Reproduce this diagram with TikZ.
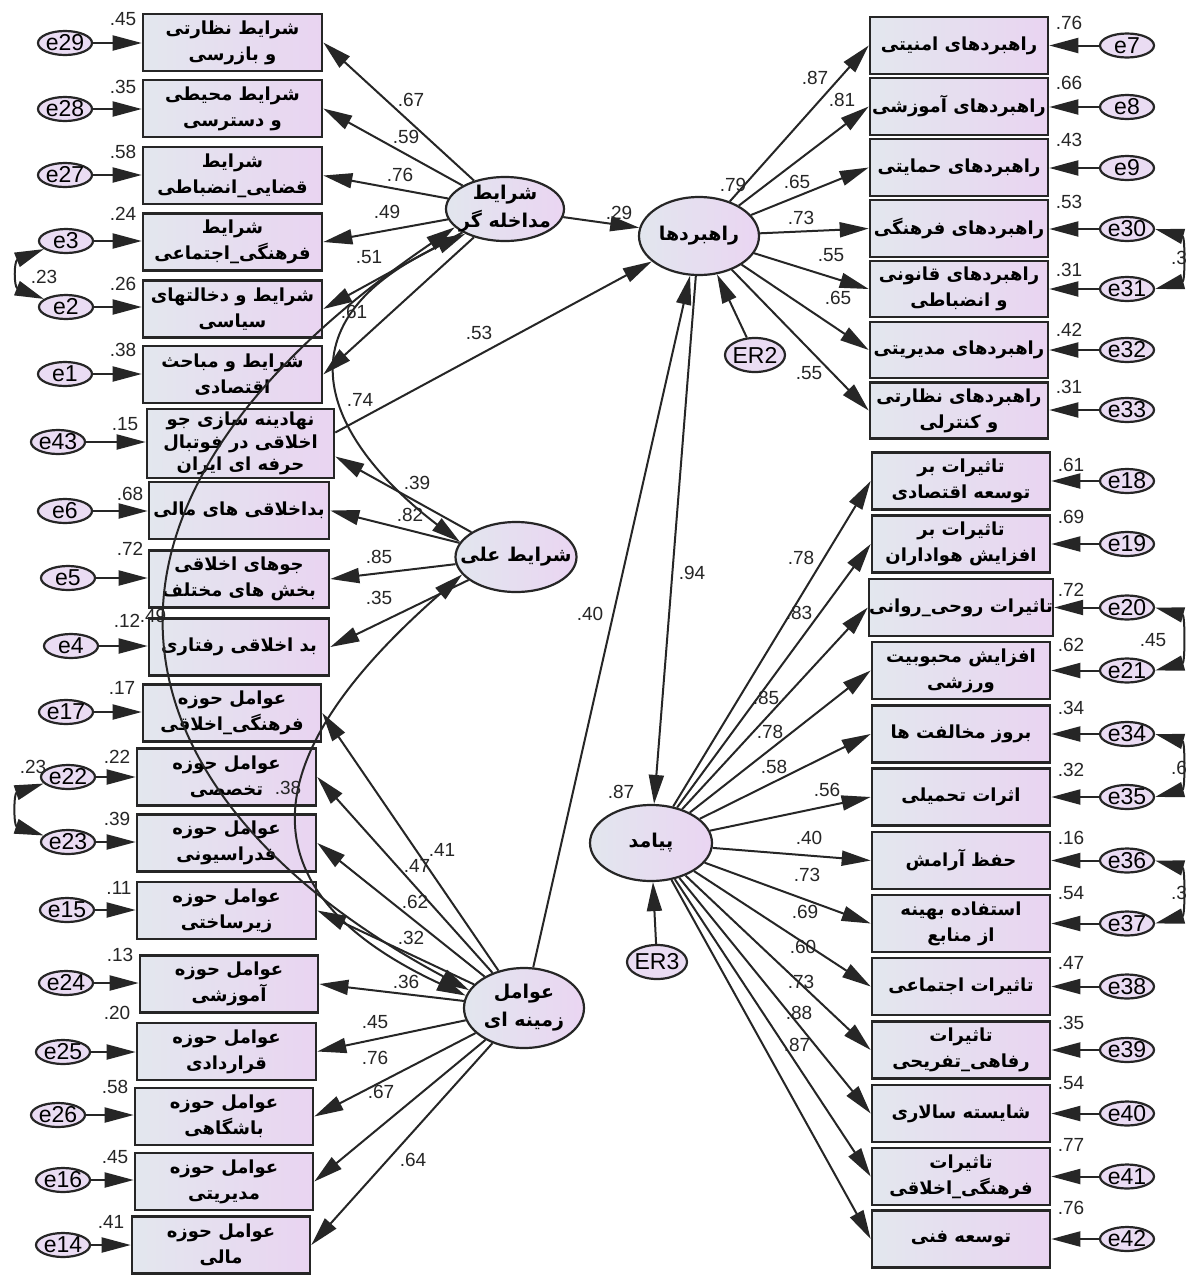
\documentclass[tikz,border=0pt]{standalone}
\usepackage{fontspec}
\setmainfont{Liberation Sans}
\newfontfamily\persianfont[Script=Arabic]{DejaVu Sans}
\TeXXeTstate=1
\usetikzlibrary{arrows.meta,shapes.geometric}
\definecolor{boxL}{HTML}{E3E7EE}
\definecolor{boxR}{HTML}{E9D4F1}
\definecolor{latL}{HTML}{E2E6EE}
\definecolor{latR}{HTML}{EAD5F2}
\definecolor{errF}{HTML}{EADCF3}
\definecolor{edgec}{HTML}{262626}
\newcommand\fa[1]{\beginR #1\endR}
\newcommand\errnode[3]{\node[err] (#1) at (#2) {}; \node[etxt] (#1t) at (#1.center) {#3};}
\newcommand\lab[3]{\node[num] (#1) at (#2) {#3};}
\begin{document}
\begin{tikzpicture}[x=1pt,y=-1pt,
  obs/.style={draw=edgec, line width=2.6pt, left color=boxL, right color=boxR,
    minimum width=178pt, minimum height=57pt, inner sep=0pt, align=center,
    font=\persianfont\bfseries\fontsize{18}{26}\selectfont},
  lat/.style={ellipse, draw=edgec, line width=2.2pt, left color=latL, right color=latR,
    inner sep=0pt, minimum width=120pt, minimum height=66pt},
  lattxt/.style={inner sep=0pt, align=center, font=\persianfont\bfseries\fontsize{19}{28}\selectfont},
  err/.style={ellipse, draw=edgec, line width=2.2pt, fill=errF, inner sep=0pt,
    minimum width=54pt, minimum height=24pt},
  etxt/.style={inner sep=0pt, font=\fontsize{23}{23}\selectfont},
  num/.style={inner sep=0pt, font=\fontsize{19}{19}\selectfont, text=black!85},
  arr/.style={line width=2pt, draw=edgec, -{Triangle[length=29pt,width=15pt]}},
  cov/.style={line width=2pt, draw=edgec, {Triangle[length=29pt,width=15pt]}-{Triangle[length=29pt,width=15pt]}},
]
\fill[white] (0,0) rectangle (1194,1275);
\useasboundingbox (0,0) rectangle (1194,1275);

% ---------- left observed variables ----------
\node[obs, minimum width=179pt] (l1) at (232.5,42.5) {\fa{شرایط نظارتی}\\\fa{و بازرسی}};
\node[obs, minimum width=179pt] (l2) at (232.5,108.5) {\fa{شرایط محیطی}\\\fa{و دسترسی}};
\node[obs, minimum width=179pt] (l3) at (232.5,175.5) {\fa{شرایط}\\\fa{قضایی\_انضباطی}};
\node[obs, minimum width=179pt] (l4) at (232.5,242) {\fa{شرایط}\\\fa{فرهنگی\_اجتماعی}};
\node[obs, minimum width=179pt] (l5) at (232.5,309) {\fa{شرایط و دخالتهای}\\\fa{سیاسی}};
\node[obs, minimum width=179pt] (l6) at (232.5,374.5) {\fa{شرایط و مباحث}\\\fa{اقتصادی}};
\node[obs, minimum width=187pt, minimum height=69pt, font=\persianfont\bfseries\fontsize{18}{22.5}\selectfont] (l7) at (240.5,443.5) {\fa{نهادینه سازی جو}\\\fa{اخلاقی در فوتبال}\\\fa{حرفه ای ایران}};
\node[obs, minimum width=180pt] (l8) at (239,510.5) {\fa{بداخلاقی های مالی}};
\node[obs, minimum width=180pt] (l9) at (239,579) {\fa{جوهای اخلاقی}\\\fa{بخش های مختلف}};
\node[obs, minimum width=180pt] (l10) at (239,647) {\fa{بد اخلاقی رفتاری}};
\node[obs] (l11) at (232,713) {\fa{عوامل حوزه}\\\fa{فرهنگی\_اخلاقی}};
\node[obs, minimum width=179pt] (l12) at (226.5,777) {\fa{عوامل حوزه}\\\fa{تخصصی}};
\node[obs, minimum width=179pt] (l13) at (226.5,843) {\fa{عوامل حوزه}\\\fa{فدراسیونی}};
\node[obs, minimum width=179pt] (l14) at (226.5,910.5) {\fa{عوامل حوزه}\\\fa{زیرساختی}};
\node[obs] (l15) at (229,984) {\fa{عوامل حوزه}\\\fa{آموزشی}};
\node[obs, minimum width=179pt] (l16) at (226.5,1051.5) {\fa{عوامل حوزه}\\\fa{قراردادی}};
\node[obs] (l17) at (224,1116.5) {\fa{عوامل حوزه}\\\fa{باشگاهی}};
\node[obs] (l18) at (224,1181.5) {\fa{عوامل حوزه}\\\fa{مدیریتی}};
\node[obs] (l19) at (221,1245) {\fa{عوامل حوزه}\\\fa{مالی}};

% ---------- right: strategies ----------
\node[obs] (r1) at (959,45.5) {\fa{راهبردهای امنیتی}};
\node[obs] (r2) at (959,106.5) {\fa{راهبردهای آموزشی}};
\node[obs] (r3) at (959,167.5) {\fa{راهبردهای حمایتی}};
\node[obs] (r4) at (959,228.5) {\fa{راهبردهای فرهنگی}};
\node[obs, minimum height=56pt] (r5) at (959,289) {\fa{راهبردهای قانونی}\\\fa{و انضباطی}};
\node[obs, minimum height=56pt] (r6) at (959,350) {\fa{راهبردهای مدیریتی}};
\node[obs, minimum height=56pt] (r7) at (959,410.5) {\fa{راهبردهای نظارتی}\\\fa{و کنترلی}};

% ---------- right: outcomes ----------
\node[obs] (o1) at (961,481) {\fa{تاثیرات بر}\\\fa{توسعه اقتصادی}};
\node[obs] (o2) at (961,544) {\fa{تاثیرات بر}\\\fa{افزایش هواداران}};
\node[obs] (o3) at (961,607.5) {\fa{تاثیرات روحی\_روانی}};
\node[obs] (o4) at (961,670.5) {\fa{افزایش محبوبیت}\\\fa{ورزشی}};
\node[obs] (o5) at (961,734) {\fa{بروز مخالفت ها}};
\node[obs] (o6) at (961,797) {\fa{اثرات تحمیلی}};
\node[obs] (o7) at (961,860.5) {\fa{حفظ آرامش}};
\node[obs] (o8) at (961,923.5) {\fa{استفاده بهینه}\\\fa{از منابع}};
\node[obs] (o9) at (961,986.5) {\fa{تاثیرات اجتماعی}};
\node[obs] (o10) at (961,1050) {\fa{تاثیرات}\\\fa{رفاهی\_تفریحی}};
\node[obs] (o11) at (961,1113.5) {\fa{شایسته سالاری}};
\node[obs] (o12) at (961,1176.5) {\fa{تاثیرات}\\\fa{فرهنگی\_اخلاقی}};
\node[obs] (o13) at (961,1239) {\fa{توسعه فنی}};

% ---------- latent variables ----------
\node[lat, minimum width=118pt, minimum height=64pt] (A) at (505,209) {};
\node[lattxt] (At) at (A.center) {\fa{شرایط}\\\fa{مداخله گر}};
\node[lat, minimum width=120pt, minimum height=78pt] (B) at (699,236) {};
\node[lattxt] (Bt) at (B.center) {\fa{راهبردها}};
\node[lat, minimum width=121pt, minimum height=70pt] (C) at (516,557) {};
\node[lattxt] (Ct) at (C.center) {\fa{شرایط علی}};
\node[lat, minimum width=120pt, minimum height=80pt] (D) at (524,1008) {};
\node[lattxt] (Dt) at (D.center) {\fa{عوامل}\\\fa{زمینه ای}};
\node[lat, minimum width=122pt, minimum height=76pt] (E) at (651,843) {};
\node[lattxt] (Et) at (E.center) {\fa{پیامد}};

% ---------- error terms ----------
\errnode{e29}{65,43}{e29}
\errnode{e28}{65,109}{e28}
\errnode{e27}{65,175}{e27}
\errnode{e3}{66,241}{e3}
\errnode{e2}{66,307}{e2}
\errnode{e1}{65,374}{e1}
\errnode{e43}{58,442}{e43}
\errnode{e6}{65,511}{e6}
\errnode{e5}{68,578}{e5}
\errnode{e4}{71,646}{e4}
\errnode{e17}{66,712}{e17}
\errnode{e22}{68,777}{e22}
\errnode{e23}{68,842}{e23}
\errnode{e15}{67,910}{e15}
\errnode{e24}{66,983}{e24}
\errnode{e25}{63,1052}{e25}
\errnode{e26}{58,1115}{e26}
\errnode{e16}{63,1180}{e16}
\errnode{e14}{63,1245}{e14}
\errnode{e7}{1127,45.5}{e7}
\errnode{e8}{1127,107}{e8}
\errnode{e9}{1127,168}{e9}
\errnode{e30}{1127,229}{e30}
\errnode{e31}{1127,289}{e31}
\errnode{e32}{1127,350}{e32}
\errnode{e33}{1127,410}{e33}
\errnode{e18}{1127,481}{e18}
\errnode{e19}{1127,544}{e19}
\errnode{e20}{1127,607.5}{e20}
\errnode{e21}{1127,670.5}{e21}
\errnode{e34}{1127,734}{e34}
\errnode{e35}{1127,797}{e35}
\errnode{e36}{1127,860.5}{e36}
\errnode{e37}{1127,923.5}{e37}
\errnode{e38}{1127,986.5}{e38}
\errnode{e39}{1127,1050}{e39}
\errnode{e40}{1127,1113.5}{e40}
\errnode{e41}{1127,1176.5}{e41}
\errnode{e42}{1127,1239}{e42}
\node[err, minimum width=60pt, minimum height=34pt] (ER2) at (755,355) {};
\node[etxt] (ER2t) at (ER2.center) {ER2};
\node[err, minimum width=60pt, minimum height=34pt] (ER3) at (657,962) {};
\node[etxt] (ER3t) at (ER3.center) {ER3};

% ---------- error arrows ----------
\foreach \e/\b in {e29/l1,e28/l2,e27/l3,e3/l4,e2/l5,e1/l6,e43/l7,e6/l8,e5/l9,e4/l10,
  e17/l11,e22/l12,e23/l13,e15/l14,e24/l15,e25/l16,e26/l17,e16/l18,e14/l19}
  \draw[arr] (\e.east) -- (\e.east -| \b.west);
\foreach \e/\b in {e7/r1,e8/r2,e9/r3,e30/r4,e31/r5,e32/r6,e33/r7,
  e18/o1,e19/o2,e20/o3,e21/o4,e34/o5,e35/o6,e36/o7,e37/o8,e38/o9,e39/o10,e40/o11,e41/o12,e42/o13}
  \draw[arr] (\e.west) -- (\e.west -| \b.east);

% ---------- loadings ----------
\foreach \b in {l1,l2,l3,l4,l5,l6} \draw[arr] (A) -- (\b.east);
\draw[arr] (C) -- ([yshift=-13pt]l7.east);
\foreach \b in {l8,l9,l10} \draw[arr] (C) -- (\b.east);
\foreach \b in {l11,l12,l13,l14,l15,l16,l17,l18,l19} \draw[arr] (D) -- (\b.east);
\foreach \b in {r1,r2,r3,r4,r5,r6,r7} \draw[arr] (B) -- (\b.west);
\foreach \b in {o1,o2,o3,o4,o5,o6,o7,o8,o9,o10,o11,o12,o13} \draw[arr] (E) -- (\b.west);

% ---------- structural paths ----------
\draw[arr] (A) -- (B);
\draw[arr] ([yshift=11pt]l7.east) -- (B);
\draw[arr] (D) -- (B);
\draw[arr] (B) -- (E);
\draw[arr] (ER2) -- (B);
\draw[arr] (ER3) -- (E);

% ---------- covariances ----------
\draw[cov] (A.200) .. controls (24,521) and (122,805) .. (D.162);
\draw[cov] (A.212) .. controls (268,326) and (330,443) .. (C.165);
\draw[cov] (C.198) .. controls (319,700) and (185,865) .. (D.168);
\draw[cov] (e3.200) .. controls +(-30,12) and +(-30,-12) .. (e2.160);
\draw[cov] (e22.195) .. controls +(-30,10) and +(-30,-10) .. (e23.165);
\draw[cov] (e30.east) .. controls +(30,8) and +(30,-8) .. (e31.east);
\draw[cov] (e20.east) .. controls +(30,8) and +(30,-8) .. (e21.east);
\draw[cov] (e34.east) .. controls +(30,8) and +(30,-8) .. (e35.east);
\draw[cov] (e36.east) .. controls +(30,8) and +(30,-8) .. (e37.east);

% ---------- numbers: variances ----------
\lab{v1}{123,19}{.45}
\lab{v2}{123,87}{.35}
\lab{v3}{123,152}{.58}
\lab{v4}{123,214}{.24}
\lab{v5}{123,284}{.26}
\lab{v6}{123,350}{.38}
\lab{v7}{125,424}{.15}
\lab{v8}{130,494}{.68}
\lab{v9}{130,549}{.72}
\lab{v10}{127,621}{.12}
\lab{v11}{122,688}{.17}
\lab{v12}{117,757}{.22}
\lab{v13}{117,819}{.39}
\lab{v14}{119,888}{.11}
\lab{v15}{120,955}{.13}
\lab{v16}{117,1013}{.20}
\lab{v17}{115,1087}{.58}
\lab{v18}{115,1157}{.45}
\lab{v19}{111,1222}{.41}
\lab{w1}{1069,23}{.76}
\lab{w2}{1069,83}{.66}
\lab{w3}{1069,140}{.43}
\lab{w4}{1069,202}{.53}
\lab{w5}{1069,270}{.31}
\lab{w6}{1069,330}{.42}
\lab{w7}{1069,387}{.31}
\lab{u1}{1071,465}{.61}
\lab{u2}{1071,517}{.69}
\lab{u3}{1071,590}{.72}
\lab{u4}{1071,645}{.62}
\lab{u5}{1071,708}{.34}
\lab{u6}{1071,770}{.32}
\lab{u7}{1071,838}{.16}
\lab{u8}{1071,893}{.54}
\lab{u9}{1071,963}{.47}
\lab{u10}{1071,1023}{.35}
\lab{u11}{1071,1083}{.54}
\lab{u12}{1071,1145}{.77}
\lab{u13}{1071,1208}{.76}
\lab{rB}{733,185}{.79}
\lab{rE}{621,792}{.87}

% ---------- numbers: paths ----------
\lab{pa1}{411,100}{.67}
\lab{pa2}{406,137}{.59}
\lab{pa3}{400,175}{.76}
\lab{pa4}{387,212}{.49}
\lab{pa5}{369,257}{.51}
\lab{pa6}{354,312}{.61}
\lab{pAB}{619,213}{.29}
\lab{p7B}{479,333}{.53}
\lab{cAC}{360,400}{.74}
\lab{pc7}{417,483}{.39}
\lab{pc8}{410,515}{.82}
\lab{pc9}{379,557}{.85}
\lab{pc10}{379,598}{.35}
\lab{cAD}{153,616}{.49}
\lab{pDB}{590,614}{.40}
\lab{pBE}{692,573}{.94}
\lab{pb1}{815,78}{.87}
\lab{pb2}{842,100}{.81}
\lab{pb3}{797,182}{.65}
\lab{pb4}{801,218}{.73}
\lab{pb5}{831,255}{.55}
\lab{pb6}{838,298}{.65}
\lab{pb7}{809,373}{.55}
\lab{pe1}{801,558}{.78}
\lab{pe2}{799,613}{.83}
\lab{pe3}{766,698}{.85}
\lab{pe4}{770,732}{.78}
\lab{pe5}{774,767}{.58}
\lab{pe6}{827,790}{.56}
\lab{pe7}{809,838}{.40}
\lab{pe8}{807,875}{.73}
\lab{pe9}{805,912}{.69}
\lab{pe10}{803,947}{.60}
\lab{pe11}{801,982}{.73}
\lab{pe12}{799,1013}{.88}
\lab{pe13}{797,1045}{.87}
\lab{pd11}{442,850}{.41}
\lab{pd12}{417,866}{.47}
\lab{pd13}{415,902}{.62}
\lab{pd14}{411,938}{.32}
\lab{pd15}{406,982}{.36}
\lab{pd16}{375,1022}{.45}
\lab{pd17}{375,1058}{.76}
\lab{pd18}{381,1092}{.67}
\lab{pd19}{413,1160}{.64}
\lab{cCD}{288,788}{.38}
\lab{c32}{44,277}{.23}
\lab{c2223}{33,767}{.23}
\lab{c2021}{1153,640}{.45}
\node[num, anchor=west] (c3031) at (1171,258) {.3};
\node[num, anchor=west] (c3435) at (1171,768) {.6};
\node[num, anchor=west] (c3637) at (1171,893) {.3};
\end{tikzpicture}
\end{document}
